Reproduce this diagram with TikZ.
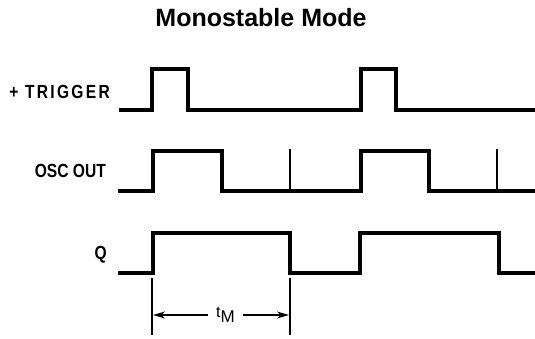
\documentclass[tikz,border=0pt]{standalone}
\usepackage{fontspec}
\setmainfont{Liberation Sans}
\newfontfamily\sigfont[FakeStretch=0.82]{Liberation Sans}
\usetikzlibrary{arrows.meta}

\begin{document}
\begin{tikzpicture}[x=1pt, y=-1pt,
  wave/.style={line width=4.2pt, line join=miter},
  tick/.style={line width=2.8pt},
  dim/.style={line width=1.3pt},
  arr/.style={-{Stealth[length=12pt, width=7pt]}, line width=1.2pt},
  siglabel/.style={anchor=east, inner sep=0pt, font=\sigfont\bfseries\fontsize{19}{19}\selectfont},
  title/.style={font=\bfseries\fontsize{25}{25}\selectfont},
]
\useasboundingbox (0,0) rectangle (535,339);

% --- title ---
\node[title] (title) at (261,18) {Monostable Mode};

% --- signal names ---
\node[siglabel] (trig) at (110,92) {\addfontfeature{LetterSpace=12}+ TRIGGER};
\node[siglabel] (osc) at (106,170.5) {OSC OUT};
\node[siglabel] (q) at (107,254.5) {Q};

% --- +trigger ---
\draw[wave] (119,110) -- (152,110) -- (152,69) -- (188,69) -- (188,110)
  -- (361,110) -- (361,69) -- (396,69) -- (396,110) -- (537,110);

% --- osc out ---
\draw[wave] (118,191) -- (153,191) -- (153,151) -- (222,151) -- (222,191)
  -- (361,191) -- (361,151) -- (429,151) -- (429,191) -- (537,191);
\draw[tick] (290,191) -- (290,149);
\draw[tick] (497,191) -- (497,149);

% --- Q ---
\draw[wave] (118,273) -- (153,273) -- (153,233) -- (290,233) -- (290,273)
  -- (360,273) -- (360,233) -- (499,233) -- (499,273) -- (537,273);

% --- pulse width ---
\draw[dim] (152,278) -- (152,335);
\draw[dim] (290,278) -- (290,335);
\coordinate (tmL) at (153,315);
\coordinate (tmR) at (289,315);
\node[inner sep=0pt, minimum width=35pt, minimum height=12pt, font=\fontsize{16}{16}\selectfont] (tm) at (225.5,315) {t\raisebox{-5pt}{\fontsize{17}{17}\selectfont M}};
\draw[arr] (tm) -- (tmL);
\draw[arr] (tm) -- (tmR);
\end{tikzpicture}
\end{document}
